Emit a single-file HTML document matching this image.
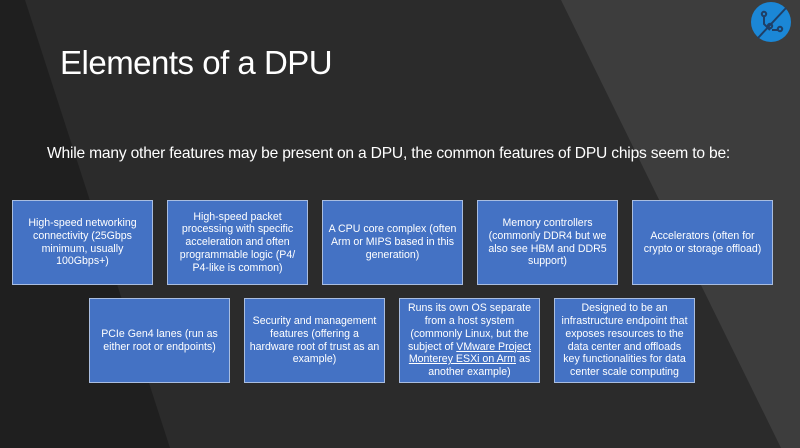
<!DOCTYPE html>
<html><head><meta charset="utf-8"><style>
body{margin:0;width:800px;height:448px;overflow:hidden;background:#2b2b2b;font-family:"Liberation Sans",sans-serif;position:relative}
svg.bg{position:absolute;left:0;top:0}
.t{position:absolute;left:60px;top:44px;color:#fff;font-size:33px;letter-spacing:-0.5px}
.s{position:absolute;left:47px;top:145px;color:#fff;font-size:15.6px;white-space:nowrap;letter-spacing:-0.2px}
.b{position:absolute;width:141px;height:85px;background:#4472c4;border:1px solid #a9bde0;color:#fff;font-size:10.6px;line-height:12.7px;text-align:center;display:flex;align-items:center;justify-content:center;box-sizing:border-box;white-space:nowrap}
.b span{display:block}
u{text-decoration:underline}
</style></head><body>
<svg class="bg" width="800" height="448">
<polygon points="0,0 25,0 170,448 0,448" fill="#1f1f1f"/>
<polygon points="561,0 800,0 800,448 781,448" fill="#3d3d3d"/>
<circle cx="771" cy="22" r="20" fill="#1b87d6"/>
<g stroke="#1f3f66" stroke-width="2" fill="none">
<line x1="758" y1="38" x2="786" y2="8"/>
<path d="M764 16 L764 24 L770 30"/><circle cx="764" cy="14" r="2.2"/>
<circle cx="770" cy="26" r="2.2"/>
<path d="M772 30 L778 30"/><circle cx="780" cy="29" r="2.2"/>
</g>
</svg>
<div class="t">Elements of a DPU</div>
<div class="s">While many other features may be present on a DPU, the common features of DPU chips seem to be:</div>
<div class="b" style="left:12px;top:200px"><span>High-speed networking<br>connectivity (25Gbps<br>minimum, usually<br>100Gbps+)</span></div>
<div class="b" style="left:167px;top:200px"><span>High-speed packet<br>processing with specific<br>acceleration and often<br>programmable logic (P4/<br>P4-like is common)</span></div>
<div class="b" style="left:322px;top:200px"><span>A CPU core complex (often<br>Arm or MIPS based in this<br>generation)</span></div>
<div class="b" style="left:477px;top:200px"><span>Memory controllers<br>(commonly DDR4 but we<br>also see HBM and DDR5<br>support)</span></div>
<div class="b" style="left:632px;top:200px"><span>Accelerators (often for<br>crypto or storage offload)</span></div>
<div class="b" style="left:89px;top:298px"><span>PCIe Gen4 lanes (run as<br>either root or endpoints)</span></div>
<div class="b" style="left:244px;top:298px"><span>Security and management<br>features (offering a<br>hardware root of trust as an<br>example)</span></div>
<div class="b" style="left:399px;top:298px"><span>Runs its own OS separate<br>from a host system<br>(commonly Linux, but the<br>subject of <u>VMware Project</u><br><u>Monterey ESXi on Arm</u> as<br>another example)</span></div>
<div class="b" style="left:554px;top:298px"><span>Designed to be an<br>infrastructure endpoint that<br>exposes resources to the<br>data center and offloads<br>key functionalities for data<br>center scale computing</span></div>
</body></html>
